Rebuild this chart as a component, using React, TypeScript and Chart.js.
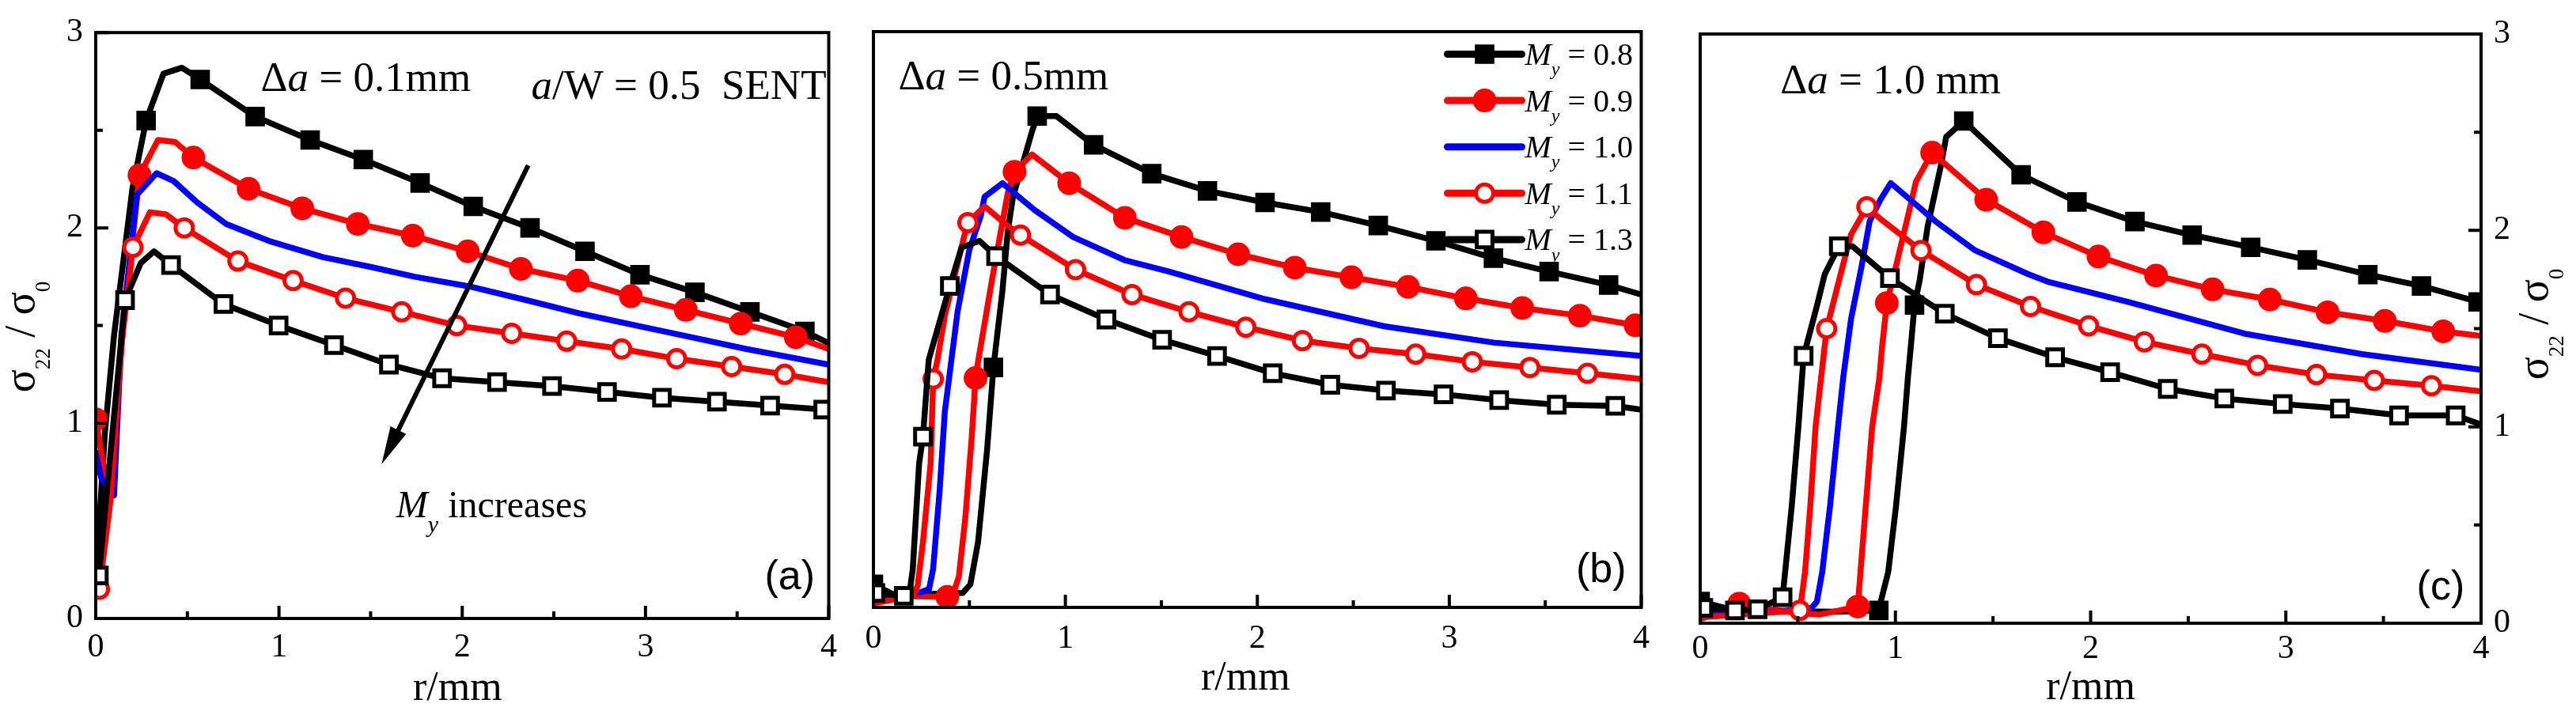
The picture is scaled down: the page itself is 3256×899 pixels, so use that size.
import React, { useEffect, useRef } from "react";
import { Chart, registerables } from "chart.js";

Chart.register(...registerables);

const SERIF = "'Liberation Serif', 'Times New Roman', serif";
const SANS = "'Liberation Sans', Arial, sans-serif";

// yield strength mismatch values shown in the legend
const myValues = ["0.8", "0.9", "1.0", "1.1", "1.3"];

// axis ticks
const xMajor = [0, 1, 2, 3, 4];
const xMinor = [0.5, 1.5, 2.5, 3.5];
const yMajor = [0, 1, 2, 3];
const yMinor = [0.5, 1.5, 2.5];

// ---- (a) da = 0.1 mm : r (mm), s = sigma22/sigma0, m = indices that carry a symbol
const aR08 = [0, 0.05, 0.1, 0.2, 0.275, 0.37, 0.47, 0.57, 0.87, 1.17, 1.46, 1.77, 2.06, 2.37, 2.67, 2.97, 3.27, 3.57, 3.87, 4.0];
const aS08 = [0.2, 0.95, 1.45, 2.2, 2.55, 2.79, 2.82, 2.76, 2.57, 2.45, 2.35, 2.23, 2.11, 2.0, 1.88, 1.76, 1.67, 1.57, 1.47, 1.41];
const aM08 = [4, 7, 8, 9, 10, 11, 12, 13, 14, 15, 16, 17, 18];

const aR09 = [0, 0.075, 0.15, 0.239, 0.34, 0.433, 0.533, 0.834, 1.127, 1.43, 1.73, 2.03, 2.32, 2.63, 2.92, 3.22, 3.52, 3.82, 4.0];
const aS09 = [1.02, 0.6, 1.5, 2.27, 2.45, 2.44, 2.36, 2.2, 2.1, 2.02, 1.96, 1.88, 1.79, 1.73, 1.65, 1.58, 1.51, 1.44, 1.38];
const aM09 = [0, 3, 6, 7, 8, 9, 10, 11, 12, 13, 14, 15, 16, 17];

const aR10 = [0, 0.03, 0.1, 0.14, 0.225, 0.332, 0.425, 0.554, 0.712, 0.955, 1.24, 1.5, 1.74, 2.04, 2.35, 2.65, 2.95, 3.25, 3.55, 4.0];
const aS10 = [0.85, 0.72, 0.63, 1.45, 2.17, 2.28, 2.24, 2.13, 2.02, 1.93, 1.85, 1.8, 1.75, 1.7, 1.63, 1.56, 1.5, 1.44, 1.38, 1.3];
const aM10: number[] = [];

const aR11 = [0.02, 0.08, 0.14, 0.203, 0.296, 0.382, 0.483, 0.776, 1.077, 1.363, 1.67, 1.97, 2.27, 2.57, 2.87, 3.17, 3.47, 3.76, 4.0];
const aS11 = [0.15, 0.6, 1.4, 1.9, 2.08, 2.07, 2.0, 1.83, 1.73, 1.64, 1.57, 1.5, 1.46, 1.42, 1.38, 1.33, 1.29, 1.25, 1.21];
const aM11 = [0, 3, 6, 7, 8, 9, 10, 11, 12, 13, 14, 15, 16, 17];

const aR13 = [0.017, 0.16, 0.246, 0.318, 0.411, 0.697, 0.998, 1.3, 1.6, 1.89, 2.19, 2.49, 2.79, 3.09, 3.39, 3.68, 3.97, 4.0];
const aS13 = [0.22, 1.63, 1.82, 1.88, 1.81, 1.61, 1.5, 1.4, 1.3, 1.23, 1.21, 1.19, 1.16, 1.13, 1.11, 1.09, 1.07, 1.07];
const aM13 = [0, 1, 4, 5, 6, 7, 8, 9, 10, 11, 12, 13, 14, 15, 16];

// ---- (b) da = 0.5 mm
const bR08 = [0, 0.1, 0.3, 0.465, 0.505, 0.545, 0.592, 0.625, 0.672, 0.7, 0.727, 0.786, 0.826, 0.853, 0.953, 1.147, 1.45, 1.74, 2.04, 2.33, 2.63, 2.93, 3.23, 3.52, 3.83, 4.0];
const bS08 = [0.12, 0.07, 0.07, 0.075, 0.12, 0.34, 0.82, 1.25, 1.65, 1.96, 2.14, 2.34, 2.48, 2.56, 2.56, 2.41, 2.26, 2.17, 2.11, 2.06, 1.99, 1.91, 1.82, 1.75, 1.68, 1.63];
const bM08 = [0, 7, 13, 15, 16, 17, 18, 19, 20, 21, 22, 23, 24];

const bR09 = [0, 0.1, 0.385, 0.425, 0.445, 0.479, 0.512, 0.532, 0.545, 0.62, 0.7, 0.735, 0.826, 1.02, 1.31, 1.605, 1.9, 2.195, 2.49, 2.785, 3.086, 3.38, 3.68, 3.97, 4.0];
const bS09 = [0.02, 0.06, 0.055, 0.1, 0.16, 0.47, 0.886, 1.195, 1.28, 1.72, 2.16, 2.27, 2.36, 2.21, 2.03, 1.93, 1.84, 1.77, 1.72, 1.67, 1.61, 1.56, 1.52, 1.47, 1.47];
const bM09 = [2, 7, 11, 13, 14, 15, 16, 17, 18, 19, 20, 21, 22, 23];

const bR10 = [0, 0.2, 0.25, 0.29, 0.311, 0.345, 0.372, 0.405, 0.439, 0.499, 0.559, 0.579, 0.672, 0.84, 1.04, 1.307, 1.54, 2.04, 2.66, 3.23, 4.0];
const bS10 = [0.04, 0.07, 0.08, 0.096, 0.2, 0.61, 1.02, 1.28, 1.545, 1.86, 2.04, 2.14, 2.21, 2.07, 1.93, 1.81, 1.75, 1.606, 1.465, 1.38, 1.31];
const bM10: number[] = [];

const bR11 = [0, 0.15, 0.211, 0.231, 0.258, 0.298, 0.3115, 0.332, 0.372, 0.472, 0.492, 0.579, 0.679, 0.766, 1.053, 1.347, 1.644, 1.94, 2.235, 2.53, 2.825, 3.12, 3.42, 3.72, 4.0];
const bS11 = [0.02, 0.05, 0.063, 0.117, 0.34, 0.75, 1.19, 1.28, 1.52, 1.93, 2.005, 2.09, 2.005, 1.94, 1.76, 1.63, 1.54, 1.46, 1.39, 1.35, 1.32, 1.28, 1.25, 1.22, 1.19];
const bM11 = [6, 10, 13, 14, 15, 16, 17, 18, 19, 20, 21, 22, 23];

const bR13 = [0.01, 0.158, 0.19, 0.205, 0.238, 0.258, 0.288, 0.398, 0.459, 0.552, 0.639, 0.92, 1.214, 1.504, 1.79, 2.08, 2.38, 2.67, 2.97, 3.26, 3.56, 3.865, 4.0];
const bS13 = [0.075, 0.06, 0.09, 0.2, 0.75, 0.89, 1.29, 1.675, 1.875, 1.91, 1.83, 1.63, 1.5, 1.394, 1.31, 1.22, 1.16, 1.13, 1.11, 1.08, 1.056, 1.05, 1.03];
const bM13 = [0, 1, 5, 7, 10, 11, 12, 13, 14, 15, 16, 17, 18, 19, 20, 21];

// ---- (c) da = 1.0 mm
const cR08 = [0, 0.2, 0.5, 0.706, 0.915, 0.929, 0.963, 1.003, 1.044, 1.064, 1.08, 1.098, 1.125, 1.165, 1.233, 1.26, 1.35, 1.644, 1.93, 2.227, 2.52, 2.82, 3.11, 3.42, 3.695, 3.985, 4.0];
const cS08 = [0.11, 0.06, 0.06, 0.058, 0.065, 0.125, 0.26, 0.595, 1.0, 1.25, 1.42, 1.62, 1.75, 2.02, 2.33, 2.476, 2.557, 2.283, 2.145, 2.045, 1.976, 1.914, 1.85, 1.775, 1.717, 1.636, 1.636];
const cM08 = [0, 4, 11, 16, 17, 18, 19, 20, 21, 22, 23, 24, 25];

const cR09 = [0, 0.2, 0.5, 0.611, 0.807, 0.821, 0.848, 0.881, 0.918, 0.931, 0.956, 1.003, 1.077, 1.105, 1.188, 1.465, 1.758, 2.04, 2.335, 2.625, 2.918, 3.214, 3.507, 3.806, 4.0];
const cS09 = [0.02, 0.1, 0.05, 0.044, 0.085, 0.26, 0.595, 1.0, 1.25, 1.4, 1.63, 1.818, 2.127, 2.248, 2.396, 2.156, 1.99, 1.867, 1.77, 1.7, 1.648, 1.583, 1.539, 1.486, 1.463];
const cM09 = [1, 4, 10, 14, 15, 16, 17, 18, 19, 20, 21, 22, 23];

const cR10 = [0, 0.3, 0.57, 0.598, 0.625, 0.665, 0.706, 0.733, 0.773, 0.827, 0.868, 0.922, 0.976, 1.206, 1.409, 1.679, 1.787, 2.19, 2.79, 3.39, 4.0];
const cS10 = [0.05, 0.05, 0.078, 0.11, 0.26, 0.595, 1.0, 1.253, 1.55, 1.818, 2.046, 2.154, 2.241, 2.046, 1.898, 1.778, 1.737, 1.636, 1.474, 1.37, 1.29];
const cM10: number[] = [];

const cR11 = [0, 0.3, 0.51, 0.517, 0.537, 0.564, 0.591, 0.625, 0.648, 0.733, 0.773, 0.854, 0.922, 1.131, 1.415, 1.692, 1.99, 2.275, 2.57, 2.855, 3.157, 3.453, 3.746, 4.0];
const cS11 = [0.03, 0.05, 0.065, 0.11, 0.26, 0.595, 1.0, 1.3, 1.5, 1.83, 1.98, 2.12, 2.06, 1.898, 1.724, 1.613, 1.514, 1.433, 1.37, 1.313, 1.266, 1.236, 1.209, 1.181];
const cM11 = [2, 8, 11, 13, 14, 15, 16, 17, 18, 19, 20, 21, 22];

const cR13 = [0.016, 0.178, 0.294, 0.422, 0.435, 0.469, 0.503, 0.53, 0.598, 0.638, 0.71, 0.78, 0.972, 1.253, 1.525, 1.818, 2.1, 2.395, 2.685, 2.984, 3.277, 3.58, 3.87, 4.0];
const cS13 = [0.078, 0.065, 0.071, 0.132, 0.26, 0.595, 1.0, 1.361, 1.616, 1.777, 1.919, 1.919, 1.757, 1.576, 1.451, 1.354, 1.278, 1.193, 1.144, 1.116, 1.093, 1.058, 1.058, 1.012];
const cM13 = [0, 1, 2, 3, 7, 10, 12, 13, 14, 15, 16, 17, 18, 19, 20, 21, 22];

// annotation anchors in data units (panel a)
const arrowFrom = [2.36, 2.32];
const arrowTo = [1.56, 0.79];
const increasesAt = [1.64, 0.52];

type Style = { color: string; shape: "" | "rect" | "circle"; fill: string; radius: number; bw: number };
const styles: Style[] = [
  { color: "#000000", shape: "rect", fill: "#000000", radius: 16, bw: 2 },
  { color: "#ff0000", shape: "circle", fill: "#ff0000", radius: 14, bw: 2 },
  { color: "#0000ff", shape: "", fill: "#0000ff", radius: 0, bw: 0 },
  { color: "#ff0000", shape: "circle", fill: "#ffffff", radius: 11, bw: 5 },
  { color: "#000000", shape: "rect", fill: "#ffffff", radius: 14, bw: 5 },
];

type Run = { t: string; it?: boolean; sub?: boolean };

// draws a row of text pieces (italic / subscript) from x along the baseline y
function drawRuns(
  ctx: CanvasRenderingContext2D,
  runs: Run[],
  x: number,
  y: number,
  size: number,
  measureOnly = false,
  subScale = 0.6,
  subShift = 0.3,
) {
  let cx = x;
  for (const r of runs) {
    const fs = r.sub ? Math.round(size * subScale) : size;
    ctx.font = `${r.it ? "italic " : ""}${fs}px ${SERIF}`;
    if (!measureOnly) ctx.fillText(r.t, cx, r.sub ? y + size * subShift : y);
    cx += ctx.measureText(r.t).width;
  }
  return cx - x;
}

function drawMarker(ctx: CanvasRenderingContext2D, st: Style, x: number, y: number) {
  if (!st.shape) return;
  ctx.beginPath();
  if (st.shape === "circle") {
    ctx.arc(x, y, st.radius, 0, Math.PI * 2);
  } else {
    const h = st.radius * Math.SQRT1_2;
    ctx.rect(x - h, y - h, 2 * h, 2 * h);
  }
  ctx.fillStyle = st.fill;
  ctx.fill();
  ctx.lineWidth = st.bw;
  ctx.strokeStyle = st.color;
  ctx.stroke();
}

type PanelDef = {
  key: string;
  left: number;
  width: number;
  area: { l: number; r: number; t: number; b: number };
  rs: number[][];
  ss: number[][];
  ms: number[][];
  yAxis: "left" | "none" | "right";
  xPad: number;
  xTitleBase: number;
  xTitleDx: number;
  yTitle?: { x: number; y: number };
  crack: string;
  crackAt: number[];
  tag: string;
  tagAt: number[];
  legend?: boolean;
  notes?: boolean;
};

const panels: PanelDef[] = [
  {
    key: "a",
    left: 0,
    width: 1070,
    area: { l: 121, r: 1052, t: 38, b: 782 },
    rs: [aR08, aR09, aR10, aR11, aR13],
    ss: [aS08, aS09, aS10, aS11, aS13],
    ms: [aM08, aM09, aM10, aM11, aM13],
    yAxis: "left",
    xPad: 12,
    xTitleBase: 885,
    xTitleDx: -6,
    yTitle: { x: 43, y: 426 },
    crack: " = 0.1mm",
    crackAt: [0.9, 2.7],
    tag: "(a)",
    tagAt: [3.65, 0.15],
    notes: true,
  },
  {
    key: "b",
    left: 1070,
    width: 1030,
    area: { l: 17, r: 1015, t: 40, b: 768 },
    rs: [bR08, bR09, bR10, bR11, bR13],
    ss: [bS08, bS09, bS10, bS11, bS13],
    ms: [bM08, bM09, bM10, bM11, bM13],
    yAxis: "none",
    xPad: 15,
    xTitleBase: 872,
    xTitleDx: -15,
    crack: " = 0.5mm",
    crackAt: [0.13, 2.7],
    tag: "(b)",
    tagAt: [3.66, 0.13],
    legend: true,
  },
  {
    key: "c",
    left: 2100,
    width: 1156,
    area: { l: 49, r: 1036, t: 43, b: 788 },
    rs: [cR08, cR09, cR10, cR11, cR13],
    ss: [cS08, cS09, cS10, cS11, cS13],
    ms: [cM08, cM09, cM10, cM11, cM13],
    yAxis: "right",
    xPad: 8,
    xTitleBase: 884,
    xTitleDx: 0,
    yTitle: { x: 1120, y: 410 },
    crack: " = 1.0 mm",
    crackAt: [0.41, 2.7],
    tag: "(c)",
    tagAt: [3.67, 0.12],
  },
];

function buildConfig(d: PanelDef): any {
  const datasets = d.rs.map((r, i) => {
    const st = styles[i];
    const marks = new Set(d.ms[i]);
    return {
      label: `My = ${myValues[i]}`,
      data: r.map((x, k) => ({ x, y: d.ss[i][k] })),
      borderColor: st.color,
      backgroundColor: st.fill,
      borderWidth: 7.5,
      borderJoinStyle: "round",
      borderCapStyle: "round",
      tension: 0,
      fill: false,
      pointStyle: st.shape || "circle",
      pointRadius: (c: any) => (st.shape && marks.has(c.dataIndex) ? st.radius : 0),
      pointHoverRadius: 0,
      pointBackgroundColor: st.fill,
      pointBorderColor: st.color,
      pointBorderWidth: st.bw,
      order: d.rs.length - i,
    };
  });

  const deco = {
    id: "deco" + d.key,
    afterDraw(chart: any) {
      const ctx: CanvasRenderingContext2D = chart.ctx;
      const { left, right, top, bottom } = chart.chartArea;
      const xs = chart.scales.x;
      const ys = chart.scales.y;
      ctx.save();
      ctx.strokeStyle = "#000";
      ctx.fillStyle = "#000";
      ctx.lineCap = "butt";
      ctx.lineWidth = 4;

      // inward ticks
      ctx.beginPath();
      xMajor.forEach((v) => {
        const px = xs.getPixelForValue(v);
        ctx.moveTo(px, bottom);
        ctx.lineTo(px, bottom - 16);
      });
      xMinor.forEach((v) => {
        const px = xs.getPixelForValue(v);
        ctx.moveTo(px, bottom);
        ctx.lineTo(px, bottom - 9);
      });
      if (d.yAxis !== "none") {
        const edge = d.yAxis === "left" ? left : right;
        const dir = d.yAxis === "left" ? 1 : -1;
        yMajor.forEach((v) => {
          const py = ys.getPixelForValue(v);
          ctx.moveTo(edge, py);
          ctx.lineTo(edge + dir * 16, py);
        });
        yMinor.forEach((v) => {
          const py = ys.getPixelForValue(v);
          ctx.moveTo(edge, py);
          ctx.lineTo(edge + dir * 9, py);
        });
      }
      ctx.stroke();
      ctx.strokeRect(left, top, right - left, bottom - top);

      ctx.textBaseline = "alphabetic";
      ctx.textAlign = "left";

      // x title
      ctx.font = `52px ${SERIF}`;
      const xt = "r/mm";
      const xw = ctx.measureText(xt).width;
      ctx.fillText(xt, (left + right) / 2 - xw / 2 + d.xTitleDx, d.xTitleBase);

      // y title  sigma22 / sigma0, read bottom to top
      if (d.yTitle) {
        const runs: Run[] = [{ t: "σ" }, { t: "22", sub: true }, { t: " / " }, { t: "σ" }, { t: "0", sub: true }];
        ctx.save();
        ctx.translate(d.yTitle.x, d.yTitle.y);
        ctx.rotate(-Math.PI / 2);
        const w = drawRuns(ctx, runs, 0, 0, 54, true, 0.5, 0.37);
        drawRuns(ctx, runs, -w / 2, 0, 54, false, 0.5, 0.37);
        ctx.restore();
      }

      // crack growth label
      drawRuns(
        ctx,
        [{ t: "Δ" }, { t: "a", it: true }, { t: d.crack }],
        xs.getPixelForValue(d.crackAt[0]),
        ys.getPixelForValue(d.crackAt[1]),
        53,
      );

      // panel tag
      ctx.font = `52px ${SANS}`;
      ctx.fillText(d.tag, xs.getPixelForValue(d.tagAt[0]), ys.getPixelForValue(d.tagAt[1]));

      if (d.notes) {
        const sent: Run[] = [{ t: "a", it: true }, { t: "/W = 0.5  SENT" }];
        const sw = drawRuns(ctx, sent, 0, 0, 53, true);
        drawRuns(ctx, sent, right - 3 - sw, ys.getPixelForValue(2.66), 53);

        const x0 = xs.getPixelForValue(arrowFrom[0]);
        const y0 = ys.getPixelForValue(arrowFrom[1]);
        const x1 = xs.getPixelForValue(arrowTo[0]);
        const y1 = ys.getPixelForValue(arrowTo[1]);
        const ang = Math.atan2(y1 - y0, x1 - x0);
        const hl = 48;
        const hw = 11;
        const bx = x1 - hl * Math.cos(ang);
        const by = y1 - hl * Math.sin(ang);
        ctx.lineWidth = 6;
        ctx.beginPath();
        ctx.moveTo(x0, y0);
        ctx.lineTo(bx + 8 * Math.cos(ang), by + 8 * Math.sin(ang));
        ctx.stroke();
        ctx.beginPath();
        ctx.moveTo(x1, y1);
        ctx.lineTo(bx + hw * Math.sin(ang), by - hw * Math.cos(ang));
        ctx.lineTo(bx - hw * Math.sin(ang), by + hw * Math.cos(ang));
        ctx.closePath();
        ctx.fill();

        drawRuns(
          ctx,
          [{ t: "M", it: true }, { t: "y", it: true, sub: true }, { t: " increases" }],
          xs.getPixelForValue(increasesAt[0]),
          ys.getPixelForValue(increasesAt[1]),
          48,
          false,
          0.62,
          0.4,
        );
      }

      if (d.legend) {
        const lx = right - 245;
        myValues.forEach((v, i) => {
          const base = top + 42 + i * 58.6;
          const ly = base - 13.5;
          const st = styles[i];
          ctx.strokeStyle = st.color;
          ctx.lineWidth = 9;
          ctx.lineCap = "round";
          ctx.beginPath();
          ctx.moveTo(lx, ly);
          ctx.lineTo(lx + 94, ly);
          ctx.stroke();
          drawMarker(ctx, st, lx + 47, ly);
          ctx.fillStyle = "#000";
          drawRuns(
            ctx,
            [{ t: "M", it: true }, { t: "y", it: true, sub: true }, { t: " = " + v }],
            lx + 98,
            base,
            40,
            false,
            0.6,
            0.33,
          );
        });
      }
      ctx.restore();
    },
  };

  const yDisplay = d.yAxis !== "none";
  return {
    type: "line",
    data: { datasets },
    plugins: [deco],
    options: {
      responsive: false,
      animation: false,
      events: [],
      layout: {
        autoPadding: false,
        padding: {
          left: d.yAxis === "left" ? 0 : d.area.l,
          right: d.yAxis === "right" ? 0 : d.width - d.area.r,
          top: d.area.t,
          bottom: 0,
        },
      },
      plugins: { legend: { display: false }, tooltip: { enabled: false } },
      scales: {
        x: {
          type: "linear",
          min: 0,
          max: 4,
          afterBuildTicks: (s: any) => {
            s.ticks = xMajor.map((v) => ({ value: v }));
          },
          afterFit: (s: any) => {
            s.height = 899 - d.area.b;
          },
          ticks: { font: { family: SERIF, size: 42 }, color: "#000", padding: d.xPad, maxRotation: 0 },
          grid: { display: false, drawTicks: false },
          border: { display: false },
        },
        y: {
          type: "linear",
          min: 0,
          max: 3,
          display: yDisplay,
          position: d.yAxis === "right" ? "right" : "left",
          afterBuildTicks: (s: any) => {
            s.ticks = yMajor.map((v) => ({ value: v }));
          },
          afterFit: (s: any) => {
            s.width = d.yAxis === "right" ? d.width - d.area.r : d.area.l;
          },
          ticks: { font: { family: SERIF, size: 42 }, color: "#000", padding: 16 },
          grid: { display: false, drawTicks: false },
          border: { display: false },
        },
      },
    },
  };
}

function Panel({ def }: { def: PanelDef }) {
  const canvasRef = useRef<HTMLCanvasElement | null>(null);

  useEffect(() => {
    if (!canvasRef.current) return;
    const chart = new Chart(canvasRef.current, buildConfig(def));
    return () => {
      chart.destroy();
    };
  }, [def]);

  return (
    <canvas
      ref={canvasRef}
      width={def.width}
      height={899}
      style={{ position: "absolute", left: def.left, top: 0, width: def.width, height: 899 }}
    />
  );
}

const App: React.FC = () => {
  return (
    <div style={{ position: "fixed", left: 0, top: 0, width: 3256, height: 899, background: "#fff", overflow: "hidden" }}>
      {panels.map((p) => (
        <Panel key={p.key} def={p} />
      ))}
    </div>
  );
};

export default App;
